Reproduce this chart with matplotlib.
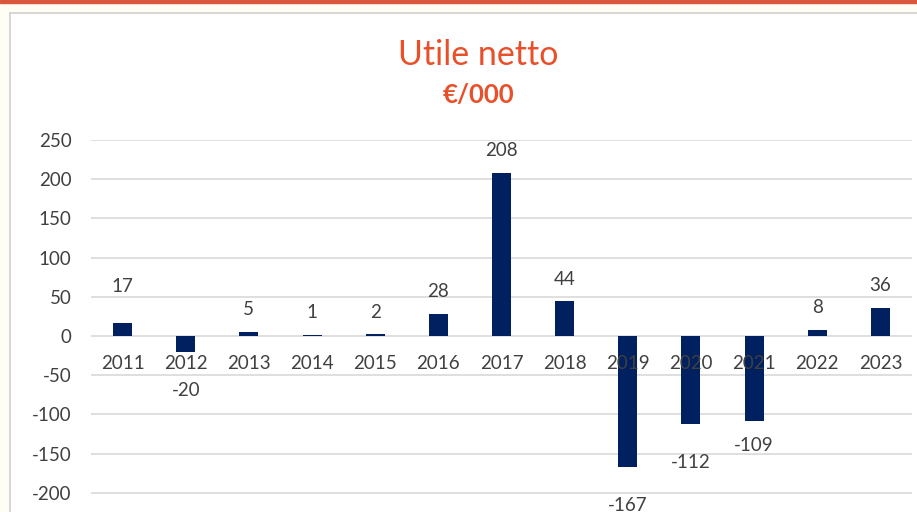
import matplotlib
matplotlib.use("Agg")
import matplotlib.pyplot as plt
from matplotlib.patches import Rectangle
from matplotlib.lines import Line2D

# Data (€/000).
years = ["2011", "2012", "2013", "2014", "2015", "2016", "2017",
         "2018", "2019", "2020", "2021", "2022", "2023"]
utile = [17, -20, 5, 1, 2, 28, 208, 44, -167, -112, -109, 8, 36]
y_ticks = [-200, -150, -100, -50, 0, 50, 100, 150, 200, 250]

# Label offsets (points) from the bar end, as placed in the original.
label_offsets = [26, -28, 16, 16, 16, 16, 16, 16, -28, -28, -17, 16, 16]

W, H = 917, 512
plt.rcParams["font.family"] = ["Lato", "DejaVu Sans"]
fig = plt.figure(figsize=(W / 100, H / 100), dpi=100)
fig.patch.set_facecolor("white")

# Frame decorations: orange rule on top, faint tint and chart border.
fig.add_artist(Rectangle((0, 1 - 13 / H), 1, 13 / H, transform=fig.transFigure,
                         color="#fffef4", zorder=0))
fig.add_artist(Rectangle((0, 0), 10 / W, 1, transform=fig.transFigure,
                         color="#fffef4", zorder=0))
fig.add_artist(Rectangle((0, 1 - 3 / H), 1, 3 / H, transform=fig.transFigure,
                         color="#d9573a", zorder=1))
fig.add_artist(Line2D([10 / W, 10 / W], [0, 1 - 13 / H], transform=fig.transFigure,
                      color="#d0d0d0", lw=1.2))
fig.add_artist(Line2D([10 / W, 1], [1 - 13 / H, 1 - 13 / H], transform=fig.transFigure,
                      color="#d0d0d0", lw=1.2))

ax = fig.add_axes([91 / W, 0, (912 - 91) / W, (H - 139.5) / H])
x = list(range(len(years)))
ax.bar(x, utile, width=0.3, color="#002060", zorder=3)

ax.set_xlim(-0.5, len(years) - 0.5)
ax.set_ylim(-224.5, 250.6)
ax.set_yticks(y_ticks)
ax.set_yticklabels([str(v) for v in y_ticks], fontsize=13.5, color="#404040")
ax.tick_params(axis="y", length=0, pad=14)
ax.set_xticks([])
ax.grid(axis="y", color="#d9d9d9", lw=1.2, zorder=0)
for s in ax.spines.values():
    s.set_visible(False)
ax.set_facecolor("none")

for i, yr in enumerate(years):
    ax.annotate(yr, (i, 0), xytext=(0, -20), textcoords="offset points",
                ha="center", va="center", fontsize=13.5, color="#404040", zorder=4)

for i, v in enumerate(utile):
    ax.annotate(str(v), (i, v), xytext=(0, label_offsets[i]), textcoords="offset points",
                ha="center", va="center", fontsize=13.5, color="#404040")

fig.text(478 / W, 1 - 55 / H, "Utile netto", ha="center", va="center",
         fontsize=24.5, color="#e8502a")
fig.text(478 / W, 1 - 95 / H, "€/000", ha="center", va="center",
         fontsize=18.5, fontweight="bold", color="#e8502a")

fig.savefig("out.png", dpi=100)
